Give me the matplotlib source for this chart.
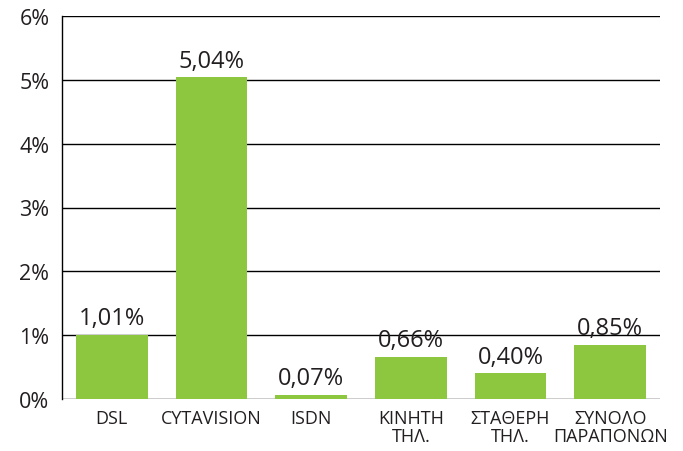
import matplotlib.pyplot as plt
from matplotlib.ticker import FuncFormatter

categories = ["DSL", "CYTAVISION", "ISDN", "ΚΙΝΗΤΗ\nΤΗΛ.", "ΣΤΑΘΕΡΗ\nΤΗΛ.", "ΣΥΝΟΛΟ\nΠΑΡΑΠΟΝΩΝ"]
values = [1.01, 5.04, 0.07, 0.66, 0.40, 0.85]
labels = ["1,01%", "5,04%", "0,07%", "0,66%", "0,40%", "0,85%"]

plt.rcParams["font.family"] = ["Open Sans", "DejaVu Sans"]
TXT = "#231f20"
GREEN = "#8dc63f"

fig = plt.figure(figsize=(6.83, 4.52), dpi=100)
ax = fig.add_axes([62 / 683, 52 / 452, 598 / 683, 383 / 452])

x = range(len(categories))
ax.bar(x, values, width=0.72, color=GREEN, zorder=3)
for i, (v, lab) in enumerate(zip(values, labels)):
    ax.text(i, v + 0.07, lab, ha="center", va="bottom", fontsize=17, color=TXT, zorder=4)

ax.set_xlim(-0.5, 5.5)
ax.set_ylim(0, 6)
ax.set_yticks(range(7))
ax.yaxis.set_major_formatter(FuncFormatter(lambda v, p: f"{int(v)}%"))
ax.set_xticks(list(x))
ax.set_xticklabels(categories, fontsize=13, color=TXT, linespacing=1.05)
ax.tick_params(axis="y", length=0, labelsize=15.5, labelcolor=TXT, pad=9)
ax.tick_params(axis="x", length=0, pad=7)

ax.grid(axis="y", color="black", linewidth=1.0, zorder=1)
for s in ["top", "right", "bottom"]:
    ax.spines[s].set_visible(False)
ax.spines["left"].set_color("black")
ax.spines["left"].set_linewidth(1.0)

fig.savefig("out.png", dpi=100)
